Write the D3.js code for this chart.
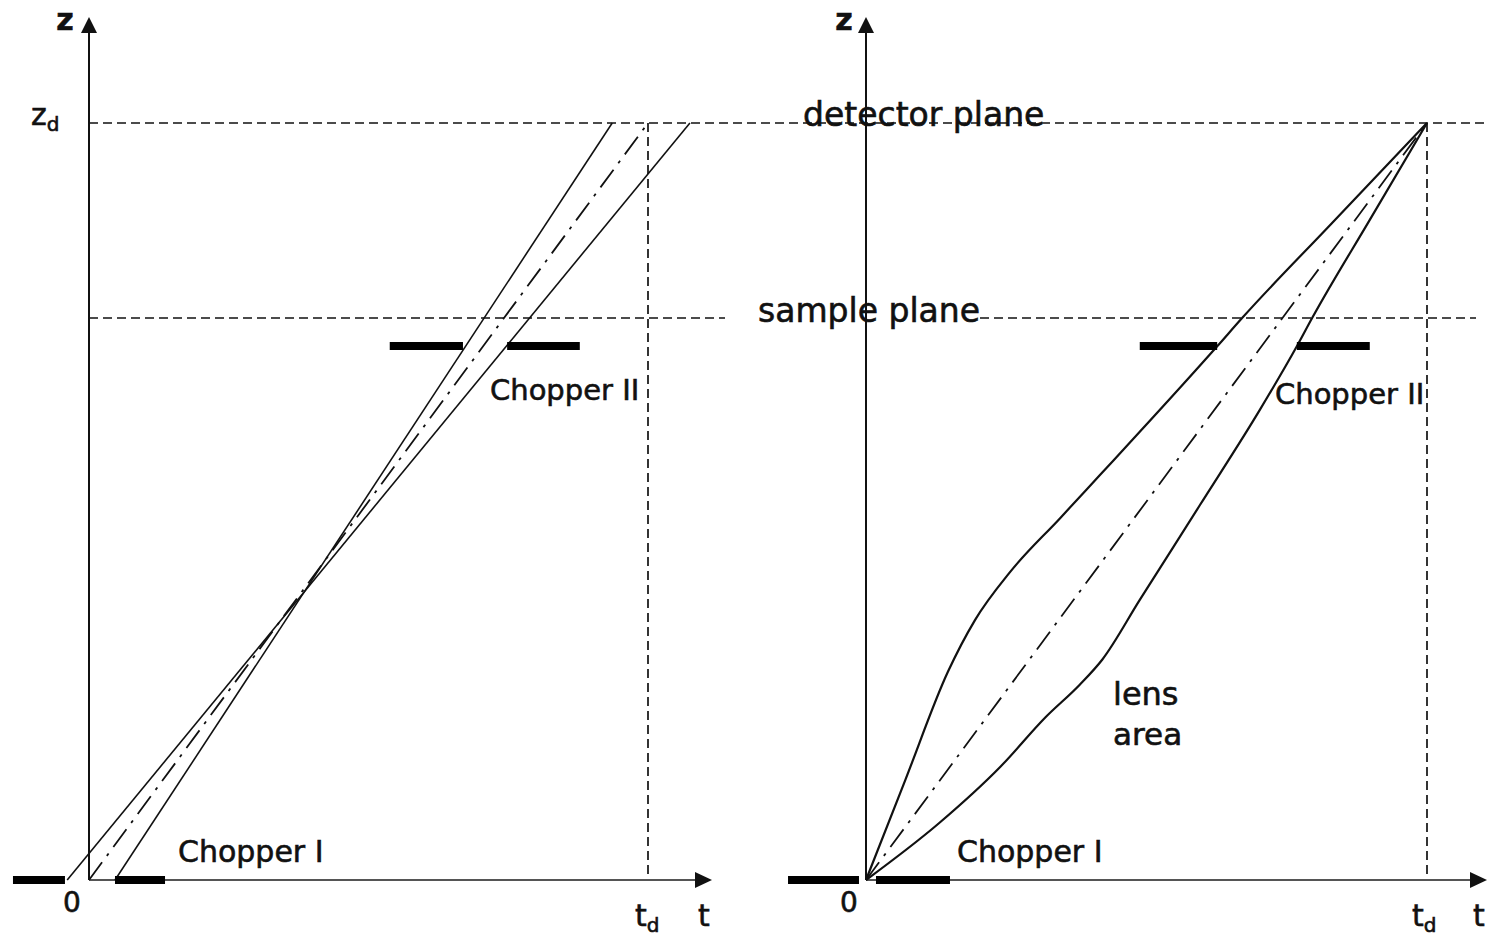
<!DOCTYPE html>
<html>
<head>
<meta charset="utf-8">
<script src="https://cdn.jsdelivr.net/npm/d3@7"></script>
<style>
  body { margin: 0; background: #fff; }
  svg text { font-family: 'DejaVu Sans', sans-serif; fill: #111; stroke: #111; stroke-width: 0.6px; }
</style>
</head>
<body>
<svg id="chart" width="1488" height="936"></svg>
<script>
// Data (t in units of t_d, z in units of z_d)

// left panel: straight rays
const leftRays = [
  [[0.0465, 0], [0.936, 1]],
  [[-0.039, 0], [1.075, 1]]
];
const leftCentre = [[0, 0], [1, 1]];
const leftChopper1 = [[-0.136, -0.043], [0.0465, 0.136]];
const leftChopper2 = [[0.538, 0.669], [0.748, 0.878]];

// right panel: lens curves
const upperCurve = [
  [0, 0], [0.070, 0.132], [0.146, 0.275], [0.194, 0.343], [0.257, 0.407],
  [0.346, 0.478], [0.417, 0.535], [0.488, 0.592], [0.626, 0.705],
  [0.670, 0.742], [0.827, 0.865], [1, 1]
];
const lowerCurve = [
  [0, 0], [0.130, 0.075], [0.240, 0.150], [0.320, 0.215], [0.381, 0.258],
  [0.421, 0.291], [0.488, 0.370], [0.595, 0.495], [0.702, 0.621],
  [0.768, 0.705], [0.795, 0.742], [0.898, 0.872], [1, 1]
];
const rightCentre = [[0, 0], [1, 1]];
const rightChopper1 = [[-0.139, -0.0125], [0.0178, 0.1497]];
const rightChopper2 = [[0.488, 0.626], [0.768, 0.898]];

const zChopper2 = 0.7054;
const zSample = 0.7424;
const zDetector = 1;

const svg = d3.select('#chart');

// scales
var y = d3.scaleLinear().domain([0, 1]).range([880, 123]);
var xL = d3.scaleLinear().domain([0, 1]).range([89, 648]);
var xR = d3.scaleLinear().domain([0, 1]).range([866, 1427]);
var zMax = y.invert(17);

var line = x => d3.line().x(d => x(d[0])).y(d => y(d[1]));

function dashed(x1, x2, y1, y2) {
  svg.append('line')
    .attr('x1', x1).attr('x2', x2).attr('y1', y1).attr('y2', y2)
    .attr('stroke', '#111').attr('stroke-width', 1.7)
    .attr('stroke-dasharray', '9,5');
}

// planes
dashed(xL(0), 1488, y(zDetector), y(zDetector));
dashed(xL(0), 725, y(zSample), y(zSample));
dashed(980, 1476, y(zSample), y(zSample));

// t_d verticals
dashed(xL(1), xL(1), y(1), y(0));
dashed(xR(1), xR(1), y(1), y(0));

function axes(x, tEnd) {
  svg.append('line')
    .attr('x1', x(0)).attr('x2', x(0)).attr('y1', y(0)).attr('y2', y(zMax) + 10)
    .attr('stroke', '#111').attr('stroke-width', 2);
  svg.append('line')
    .attr('x1', x(0)).attr('x2', x(tEnd) - 10).attr('y1', y(0)).attr('y2', y(0))
    .attr('stroke', '#555').attr('stroke-width', 2);
  // arrow heads
  var zx = x(0), zy = y(zMax);
  svg.append('path')
    .attr('d', `M${zx},${zy} L${zx - 8},${zy + 16} L${zx + 8},${zy + 16} Z`)
    .attr('fill', '#111');
  var tx = x(tEnd), ty = y(0);
  svg.append('path')
    .attr('d', `M${tx},${ty} L${tx - 17},${ty - 8} L${tx - 17},${ty + 8} Z`)
    .attr('fill', '#111');
}
axes(xL, xL.invert(712));
axes(xR, xR.invert(1487));

// left rays
leftRays.forEach(r => {
  svg.append('path').attr('d', line(xL)(r))
    .attr('fill', 'none').attr('stroke', '#111').attr('stroke-width', 1.6);
});
svg.append('path').attr('d', line(xL)(leftCentre))
  .attr('fill', 'none').attr('stroke', '#111').attr('stroke-width', 1.8)
  .attr('stroke-dasharray', '22,8,3,8');

// right lens
[upperCurve, lowerCurve].forEach(c => {
  svg.append('path')
    .attr('d', d3.line().x(d => xR(d[0])).y(d => y(d[1])).curve(d3.curveMonotoneX)(c))
    .attr('fill', 'none').attr('stroke', '#111').attr('stroke-width', 2.2);
});
svg.append('path').attr('d', line(xR)(rightCentre))
  .attr('fill', 'none').attr('stroke', '#111').attr('stroke-width', 1.8)
  .attr('stroke-dasharray', '22,8,3,8');

// choppers
function bars(x, segs, z) {
  segs.forEach(s => {
    svg.append('line')
      .attr('x1', x(s[0])).attr('x2', x(s[1])).attr('y1', y(z)).attr('y2', y(z))
      .attr('stroke', '#000').attr('stroke-width', 8);
  });
}
bars(xL, leftChopper1, 0);
bars(xL, leftChopper2, zChopper2);
bars(xR, rightChopper1, 0);
bars(xR, rightChopper2, zChopper2);

// labels
function label(txt, x, yy, size, opts) {
  var t = svg.append('text').attr('x', x).attr('y', yy)
    .style('font-size', size + 'px').text(txt);
  if (opts && opts.anchor) t.attr('text-anchor', opts.anchor);
  if (opts && opts.bold) t.style('font-weight', 700);
  return t;
}
function sub(main, s, x, yy) {
  var t = svg.append('text').attr('x', x).attr('y', yy).style('font-size', '30px');
  t.append('tspan').text(main);
  t.append('tspan').attr('dy', 6).style('font-size', '20px').text(s);
}

label('z', 65, 30, 30, {anchor: 'middle', bold: true});
label('z', 844, 30, 30, {anchor: 'middle', bold: true});
sub('z', 'd', 31, 125);

label('0', 72, 912, 28, {anchor: 'middle'});
label('0', 849, 912, 28, {anchor: 'middle'});
sub('t', 'd', 635, 926);
sub('t', 'd', 1412, 926);
label('t', 704, 926, 30, {anchor: 'middle'});
label('t', 1479, 926, 30, {anchor: 'middle'});

label('detector plane', 803, 126, 33);
label('sample plane', 758, 322, 33);
label('Chopper I', 178, 862, 30);
label('Chopper II', 490, 400, 29);
label('Chopper I', 957, 862, 30);
label('Chopper II', 1275, 404, 29);
label('lens', 1113, 705, 32);
label('area', 1113, 745, 31);
</script>
</body>
</html>
